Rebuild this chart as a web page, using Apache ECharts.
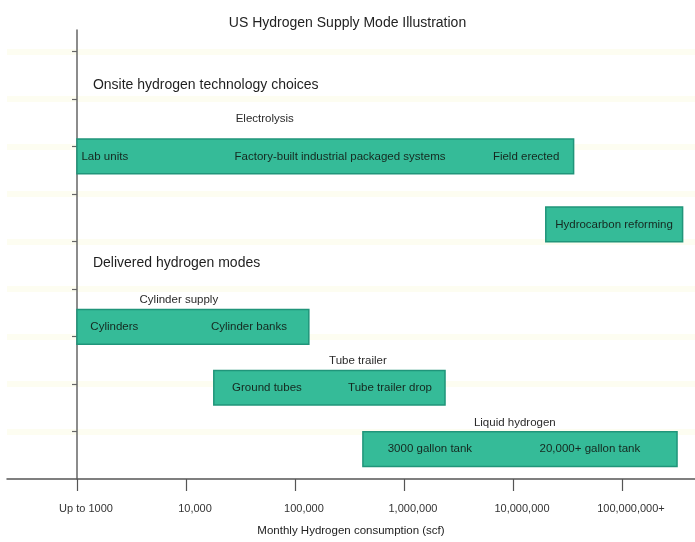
<!DOCTYPE html>
<html>
<head>
<meta charset="utf-8">
<script src="https://cdn.jsdelivr.net/npm/echarts@6/dist/echarts.min.js"></script>
<style>html,body{margin:0;padding:0;background:#fff}#c{width:695px;height:542px}</style>
</head>
<body>
<div id="c"></div>
<script>
// ---- data (monthly hydrogen consumption, scf) ----
const titleText = 'US Hydrogen Supply Mode Illustration';
const axisName = 'Monthly Hydrogen consumption (scf)';
const tickValues = [1000, 10000, 100000, 1000000, 10000000, 100000000];
const tickLabels = ['Up to 1000', '10,000', '100,000', '1,000,000', '10,000,000', '100,000,000+'];

const barNames  = ['Electrolysis', 'Hydrocarbon reforming', 'Cylinder supply', 'Tube trailer', 'Liquid hydrogen'];
const barStart  = [1000, 20000000, 1000, 18000, 420000];
const barEnd    = [36000000, 360000000, 134000, 2380000, 320000000];
const barLevel  = [6.79, 5.36, 3.20, 1.92, 0.63];

const groupLabels = ['Electrolysis', 'Cylinder supply', 'Tube trailer', 'Liquid hydrogen'];
const groupAt     = [52800, 8600, 378000, 10400000];
const groupLevel  = [7.58, 3.78, 2.48, 1.18];

const subLabels = ['Lab units', 'Factory-built industrial packaged systems', 'Field erected',
                   'Hydrocarbon reforming', 'Cylinders', 'Cylinder banks', 'Ground tubes',
                   'Tube trailer drop', '3000 gallon tank', '20,000+ gallon tank'];
const subAt     = [1800, 259000, 13200000, 84500000, 2200, 37800, 55300, 745000, 1730000, 50800000];
const subLevel  = [6.79, 6.79, 6.79, 5.36, 3.20, 3.20, 1.92, 1.92, 0.63, 0.63];

const headings     = ['Onsite hydrogen technology choices', 'Delivered hydrogen modes'];
const headingAt    = [1400, 1400];
const headingLevel = [8.28, 4.54];

// ---- helpers: x axis is log10(value / 1000) so 'Up to 1000' sits at 0 ----
const lx = v => Math.log10(v / 1000);
const FONT = '"Liberation Sans", Arial, sans-serif';
const BAR_H = 0.73;

const barData = barNames.map((n, i) => [lx(barStart[i]), lx(barEnd[i]), barLevel[i], n]);
const textData = [];
groupLabels.forEach((t, i) => textData.push([lx(groupAt[i]), groupLevel[i], t, 'center', 11.5, '#2a2a2a']));
subLabels.forEach((t, i) => textData.push([lx(subAt[i]), subLevel[i], t, 'center', 11.5, '#15281f']));
headings.forEach((t, i) => textData.push([lx(headingAt[i]), headingLevel[i], t, 'left', 14, '#1e1e1e']));

const chart = echarts.init(document.getElementById('c'), null, {renderer: 'canvas'});
chart.setOption({
  animation: false,
  backgroundColor: '#ffffff',
  title: {
    text: titleText, left: 'center', top: 11,
    textStyle: {fontFamily: FONT, fontSize: 14, fontWeight: 'normal', color: '#222'}
  },
  grid: {left: 7, right: 0, top: 30, bottom: 62, containLabel: false},
  xAxis: {
    type: 'value', min: -0.642, max: 5.67,
    axisLine: {show: true, onZero: true, lineStyle: {color: '#555', width: 1.5}},
    axisTick: {show: true, customValues: tickValues.map(lx), length: 12, inside: false,
               lineStyle: {color: '#555', width: 1.2}},
    axisLabel: {show: true, customValues: tickValues.map(lx), margin: 24,
                fontFamily: FONT, fontSize: 11, color: '#333',
                padding: [0, 0, 0, 18],
                formatter: v => { const k = tickValues.findIndex(t => Math.abs(lx(t) - v) < 1e-6); return k >= 0 ? tickLabels[k] : ''; }},
    splitLine: {show: false},
    name: axisName, nameLocation: 'middle', nameGap: 46,
    nameTextStyle: {fontFamily: FONT, fontSize: 11.5, color: '#222'}
  },
  yAxis: {
    type: 'value', min: 0, max: 9.45, interval: 1,
    axisLine: {show: true, onZero: true, lineStyle: {color: '#666', width: 1.5}},
    axisTick: {show: true, customValues: [1, 2, 3, 4, 5, 6, 7, 8, 9], length: 5, inside: false,
               lineStyle: {color: '#666', width: 1.2}},
    axisLabel: {show: false},
    splitLine: {show: true, lineStyle: {color: '#fdfdf1', width: 6}}
  },
  series: [
    {
      type: 'custom', name: 'bars', data: barData, clip: false,
      encode: {x: [0, 1], y: 2},
      renderItem: (params, api) => {
        const s = api.coord([api.value(0), api.value(2)]);
        const e = api.coord([api.value(1), api.value(2)]);
        const h = api.size([0, BAR_H])[1];
        return {
          type: 'rect',
          shape: {x: s[0], y: s[1] - h / 2, width: e[0] - s[0], height: h},
          style: {fill: '#35bb98', stroke: '#20957a', lineWidth: 1.5}
        };
      }
    },
    {
      type: 'custom', name: 'texts', data: textData, clip: false, z: 5,
      encode: {x: 0, y: 1},
      renderItem: (params, api) => {
        const d = textData[params.dataIndex];
        const p = api.coord([d[0], d[1]]);
        return {
          type: 'text', x: p[0], y: p[1],
          style: {text: d[2], textAlign: d[3], textVerticalAlign: 'middle',
                  fontFamily: FONT, fontSize: d[4], fill: d[5]}
        };
      }
    }
  ]
});
</script>
</body>
</html>
